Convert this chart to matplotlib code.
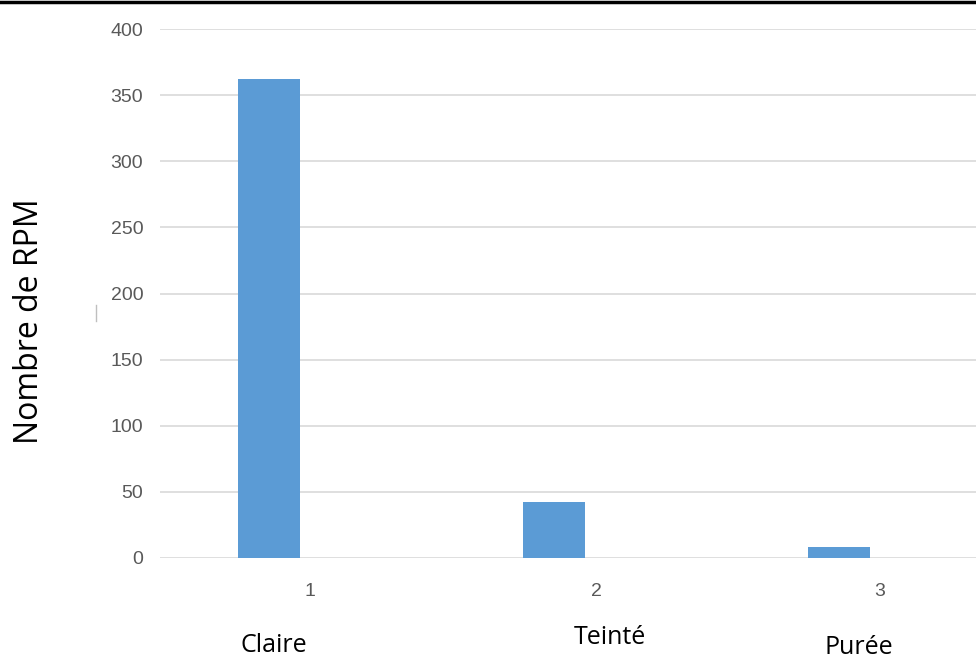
import matplotlib
matplotlib.use("Agg")
import matplotlib.pyplot as plt
from matplotlib.lines import Line2D

# data
positions = [1, 2, 3]
values = [362, 42, 8]
tick_labels = ["1", "2", "3"]
tick_x = [1.026, 2.032, 3.026]
categories = ["Claire", "Teinté", "Purée"]
cat_x = [0.90, 2.079, 2.953]
cat_y = [-0.1777, -0.1626, -0.1815]
y_ticks = [0, 50, 100, 150, 200, 250, 300, 350, 400]

BAR = "#5B9BD5"
GRID = "#D9D9D9"
TICK = "#595959"

fig = plt.figure(figsize=(9.76, 6.57), dpi=100)
# plot area runs past the right edge of the picture, as in the cropped original
ax = fig.add_axes([160 / 976, 1 - 558 / 657, 855 / 976, 529 / 657])

ax.bar([p - 0.119 for p in positions], values, width=0.2175, color=BAR, zorder=3)
ax.set_xlim(0.5, 3.5)
ax.set_ylim(0, 400)
ax.set_yticks(y_ticks)
ax.yaxis.grid(True, color=GRID, linewidth=1.2, zorder=0)
ax.set_xticks(tick_x, tick_labels)
for lbl in ax.get_xticklabels() + ax.get_yticklabels():
    lbl.set_family("Liberation Sans")
ax.tick_params(axis="x", length=0, pad=18, labelsize=14, labelcolor=TICK)
ax.tick_params(axis="y", length=0, pad=12, labelsize=14, labelcolor=TICK)
for s in ax.spines.values():
    s.set_visible(False)

for x, y, name in zip(cat_x, cat_y, categories):
    ax.text(x, y, name, transform=ax.get_xaxis_transform(), ha="center", va="baseline",
            fontsize=18, family="Open Sans", color="black", clip_on=False)

fig.text(30 / 976, 1 - 321 / 657, "Nombre de RPM", rotation=90, ha="center", va="center",
         fontsize=23, family="Open Sans", color="black")

# black rule across the top and the stray mark left of the axis
fig.add_artist(Line2D([0, 1], [1 - 2 / 657, 1 - 2 / 657], color="black", linewidth=2.5))
fig.add_artist(Line2D([96 / 976, 96 / 976], [1 - 305 / 657, 1 - 321 / 657], color="#BFBFBF", linewidth=1))

fig.savefig("out.png", dpi=100)
